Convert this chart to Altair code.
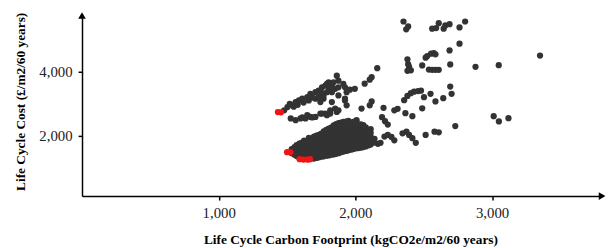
import altair as alt
import pandas as pd

# ---- data (x: kgCO2e/m2/60 yrs, y: £/m2/60 yrs) ----
scatter_x = [2352, 2372, 2386, 2562, 2591, 2610, 2646, 2658, 2689, 2762, 2803,
             2762, 2689, 2514, 2526, 2554, 2574, 2586,
             2381, 2386, 2393, 2381, 2406, 2489, 2538, 2562, 2586, 2610, 2694, 2879, 3049, 3351,
             2160, 2119, 2105, 2068, 1996, 1960,
             2694, 2704, 2643, 2586,
             2357, 2381, 2406, 2429, 2458, 2480, 2502, 2550, 2489,
             2206, 2285, 2309, 2366, 2417, 2045, 2105, 2119,
             2195, 2217, 2237,
             3012, 3050, 3120, 2731,
             2514, 2579, 2610, 2374, 2393, 2417, 2442, 2345,
             2213, 2237, 2264, 2285, 2165, 2184, 2097,
             2009, 2032, 2020, 2045, 2020, 2045, 2092, 2105]
scatter_y = [5574, 5330, 5420, 5350, 5367, 5522, 5350, 5451, 5491, 5389, 5574,
             4879, 4669, 4440, 4493, 4564, 4586, 4545,
             4391, 4236, 4153, 4029, 4045, 4199, 4070, 4060, 4060, 4060, 4230, 4153, 4205, 4508,
             4113, 3828, 3751, 3628, 3464, 3440,
             3535, 3309, 3173, 3069,
             3108, 3241, 3328, 3374, 3396, 3405, 3204, 3309, 2855,
             2871, 2793, 2840, 2701, 2608, 2846, 2948, 3071,
             2577, 2453, 2345,
             2608, 2444, 2546, 2299,
             2021, 2123, 2104, 2123, 2021, 1919, 1774, 2073,
             1968, 2021, 1959, 1851, 1743, 1774, 2123,
             2484, 2330, 2123, 2073, 1712, 1764, 1764, 1814]

band_x = [1479, 1503, 1539, 1563, 1587, 1611, 1648, 1671, 1708, 1731, 1756, 1780, 1792, 1804,
          1864, 1876, 1912, 1924, 1936,
          1659, 1708, 1731, 1767, 1792, 1828, 1852, 1876, 1828, 1840,
          1520, 1549, 1578, 1621, 1686, 1751, 1809,
          1767, 1744, 1876, 1924, 1828,
          1527, 1563, 1599, 1635, 1671, 1708, 1744, 1780, 1816, 1852, 1864, 1924, 1936,
          1876, 1756, 1792, 1648, 1684, 1612, 1816]
band_y = [2793, 2895, 2948, 3050, 3102, 3155, 3204, 3309, 3359, 3411, 3513, 3565, 3618, 3668,
          3875, 3720, 3618, 3513, 3359,
          3102, 3155, 3204, 3257, 3359, 3359, 3464, 3513, 3565, 3668,
          2991, 2904, 2966, 3034, 3192, 3349, 3473,
          3155, 3050, 3257, 3155, 3050,
          2537, 2484, 2537, 2537, 2586, 2586, 2691, 2691, 2793, 2846, 2741, 3102, 2948,
          2793, 2691, 2639, 2639, 2568, 2568, 2691]

# dense lower cluster, read column by column: (x, [y values])
lower_columns = [
    (1534, [1450, 1580]),
    (1555, [1400, 1530, 1640]),
    (1570, [1360, 1480, 1610, 1700]),
    (1590, [1320, 1440, 1560, 1680, 1750]),
    (1606, [1300, 1400, 1520, 1640, 1770]),
    (1625, [1280, 1380, 1500, 1620, 1740, 1840]),
    (1642, [1270, 1360, 1470, 1590, 1710, 1830]),
    (1660, [1260, 1380, 1500, 1620, 1740, 1860, 1930]),
    (1679, [1290, 1410, 1530, 1650, 1770, 1890]),
    (1697, [1280, 1400, 1520, 1640, 1760, 1880, 1970]),
    (1715, [1300, 1420, 1540, 1660, 1780, 1900, 2000]),
    (1733, [1320, 1440, 1560, 1680, 1800, 1920, 2020]),
    (1751, [1340, 1460, 1580, 1700, 1820, 1940, 2060]),
    (1769, [1350, 1470, 1590, 1710, 1830, 1950, 2070, 2130]),
    (1787, [1370, 1490, 1610, 1730, 1850, 1970, 2090, 2180]),
    (1805, [1380, 1500, 1620, 1740, 1860, 1980, 2100, 2220]),
    (1823, [1400, 1520, 1640, 1760, 1880, 2000, 2120, 2250]),
    (1841, [1410, 1530, 1650, 1770, 1890, 2010, 2130, 2250, 2320]),
    (1859, [1430, 1550, 1670, 1790, 1910, 2030, 2150, 2270, 2360]),
    (1877, [1450, 1570, 1690, 1810, 1930, 2050, 2170, 2290, 2390]),
    (1895, [1480, 1600, 1720, 1840, 1960, 2080, 2200, 2320, 2410]),
    (1913, [1500, 1620, 1740, 1860, 1980, 2100, 2220, 2340, 2430]),
    (1931, [1520, 1640, 1760, 1880, 2000, 2120, 2240, 2360, 2440]),
    (1949, [1540, 1660, 1780, 1900, 2020, 2140, 2260, 2380, 2460]),
    (1967, [1560, 1680, 1800, 1920, 2040, 2160, 2280, 2400]),
    (1985, [1580, 1700, 1820, 1940, 2060, 2180, 2300, 2430]),
    (2004, [1600, 1720, 1840, 1960, 2080, 2200, 2320, 2450]),
    (2022, [1610, 1730, 1850, 1970, 2090, 2210, 2340]),
    (2040, [1620, 1740, 1860, 1980, 2100, 2220, 2350]),
    (2058, [1640, 1760, 1880, 2000, 2120, 2240, 2330]),
    (2076, [1660, 1780, 1900, 2020, 2140, 2260]),
    (2094, [1690, 1810, 1930, 2050, 2170]),
    (2112, [1720, 1840, 1960, 2080, 2200]),
    (2140, [1780, 1900]),
]

# highlighted (red) solutions
optimum_x = [1433, 1455, 1500, 1525, 1592, 1620, 1648, 1668]
optimum_y = [2738, 2730, 1480, 1475, 1262, 1250, 1250, 1262]

x_ticks = [1000, 2000, 3000]
y_ticks = [2000, 4000]
x_domain = [0, 3805]
y_domain = [105, 5762]

# ---- build tables ----
gx = scatter_x + band_x
gy = scatter_y + band_y
for cx, ys in lower_columns:
    gx += [cx] * len(ys)
    gy += ys
grey = pd.DataFrame({"x": gx, "y": gy})
red = pd.DataFrame({"x": optimum_x, "y": optimum_y})
x_arrow = pd.DataFrame({"x": [x_domain[1]], "y": [y_domain[0]]})
y_arrow = pd.DataFrame({"x": [x_domain[0]], "y": [y_domain[1]]})

xenc = alt.X("x:Q", scale=alt.Scale(domain=x_domain, nice=False, zero=False),
             axis=alt.Axis(values=x_ticks, format=",d",
                           title="Life Cycle Carbon Footprint (kgCO2e/m2/60 years)",
                           labelPadding=6, titlePadding=12, titleX=272))
yenc = alt.Y("y:Q", scale=alt.Scale(domain=y_domain, nice=False, zero=False),
             axis=alt.Axis(values=y_ticks, format=",d",
                           title="Life Cycle Cost (£/m2/60 years)",
                           labelPadding=6, titlePadding=12, titleY=87))

pts = alt.Chart(grey).mark_point(filled=True, size=40, color="#333333",
                                  opacity=1, strokeWidth=0).encode(x=xenc, y=yenc)
reds = alt.Chart(red).mark_point(filled=True, size=40, color="#f01414",
                                 opacity=1, strokeWidth=0).encode(x=xenc, y=yenc)
ax_arrow = alt.Chart(x_arrow).mark_point(shape="triangle-right", filled=True, size=60,
                                         color="black", opacity=1).encode(x=xenc, y=yenc)
ay_arrow = alt.Chart(y_arrow).mark_point(shape="triangle-up", filled=True, size=60,
                                         color="black", opacity=1).encode(x=xenc, y=yenc)

chart = alt.layer(pts, reds, ax_arrow, ay_arrow).properties(
    width=527, height=183,
    padding={"left": 75, "top": 6, "right": 6, "bottom": 51},
    autosize=alt.AutoSizeParams(type="none"),
    background="white",
).configure_view(stroke=None).configure_axis(
    grid=False, domainColor="black", domainWidth=1.5,
    tickColor="black", tickSize=4, tickWidth=1.5,
    labelFont="Liberation Serif", labelFontSize=15, labelColor="#222222",
    titleFont="Liberation Serif", titleFontSize=13.5, titleFontWeight="bold",
    titleColor="black",
)

chart.save("out.html", embed_options={"renderer": "svg", "actions": False})
